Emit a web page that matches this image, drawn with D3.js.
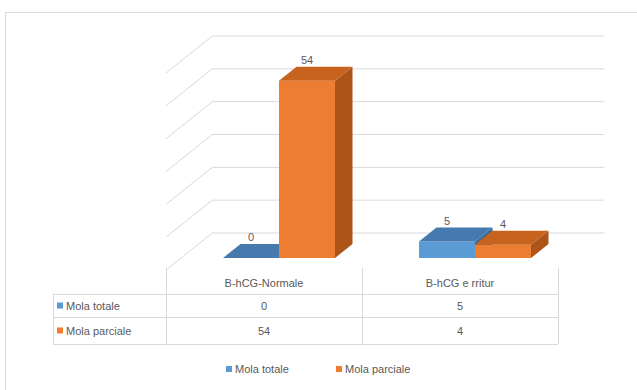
<!DOCTYPE html>
<html>
<head>
<meta charset="utf-8">
<script src="https://cdn.jsdelivr.net/npm/d3@7"></script>
<style>
  html, body { margin: 0; padding: 0; background: #ffffff; }
  svg { display: block; }
  text { font-family: "Liberation Sans", Arial, sans-serif; fill: #595959; }
</style>
</head>
<body>
<svg id="chart" width="637" height="390"></svg>
<script>
// Categories and series
const categories = ["B-hCG-Normale", "B-hCG e rritur"];
const seriesNames = ["Mola totale", "Mola parciale"];
const molaTotale = [0, 5];
const molaParciale = [54, 4];
const gridTicks = [0, 10, 20, 30, 40, 50, 60];

const seriesValues = [molaTotale, molaParciale];
const palette = [
  { front: "#5b9bd5", top: "#4679ad", side: "#3d6b98" },
  { front: "#ed7d31", top: "#c8621f", side: "#ad5419" }
];

const svg = d3.select("#chart");

// Oblique 3D projection: x along the category axis, v value, z depth
const baseY = 270;      // floor front edge
const depthDx = 1.25;   // horizontal shift per depth unit
const wallDepth = 37;   // back wall depth
const barZ0 = 12, barZ1 = 26;

const x = d3.scaleBand().domain(categories).range([166, 558]);
const xs = d3.scaleBand().domain(d3.range(seriesNames.length))
  .range([0, x.bandwidth()]).paddingInner(0).paddingOuter(0.75);
const y = d3.scaleLinear().domain([0, 60]).range([0, 197]);

const proj = (px, v, z) => [px + z * depthDx, baseY - z - y(v)];
const pts = arr => arr.map(p => p.join(",")).join(" ");

// Outer chart frame
svg.append("rect")
  .attr("x", 5.5).attr("y", 12.5).attr("width", 640).attr("height", 400)
  .attr("fill", "none").attr("stroke", "#d9d9d9");

// Walls: back wall gridlines and side wall diagonals
const grid = svg.append("g").attr("stroke", "#d9d9d9").attr("stroke-width", 1).attr("fill", "none");
gridTicks.forEach(t => {
  const bl = proj(166, t, wallDepth), br = proj(558, t, wallDepth), fl = proj(166, t, 0);
  grid.append("line").attr("x1", bl[0]).attr("y1", bl[1]).attr("x2", br[0]).attr("y2", br[1]);
  grid.append("line").attr("x1", bl[0]).attr("y1", bl[1]).attr("x2", fl[0]).attr("y2", fl[1]);
});

// Bars
const bars = svg.append("g");
const labels = svg.append("g").attr("font-size", 11).attr("text-anchor", "middle");
categories.forEach((c, ci) => {
  seriesValues.forEach((vals, si) => {
    const v = vals[ci];
    const x0 = x(c) + xs(si), x1 = x0 + xs.bandwidth();
    const col = palette[si];
    const front = [proj(x0, 0, barZ0), proj(x1, 0, barZ0), proj(x1, v, barZ0), proj(x0, v, barZ0)];
    const top = [proj(x0, v, barZ0), proj(x1, v, barZ0), proj(x1, v, barZ1), proj(x0, v, barZ1)];
    const side = [proj(x1, 0, barZ0), proj(x1, 0, barZ1), proj(x1, v, barZ1), proj(x1, v, barZ0)];
    if (v > 0) {
      bars.append("polygon").attr("points", pts(side)).attr("fill", col.side);
      bars.append("polygon").attr("points", pts(front)).attr("fill", col.front);
    }
    bars.append("polygon").attr("points", pts(top)).attr("fill", col.top);
    const lp = proj((x0 + x1) / 2, v, barZ0);
    labels.append("text").attr("x", lp[0]).attr("y", lp[1] - 17).text(v);
  });
});

// Data table
const table = svg.append("g").attr("stroke", "#d9d9d9").attr("fill", "none");
const tLeft = 53, tTop = 268, rowTops = [294, 317, 344];
[tLeft].forEach(xx => table.append("line").attr("x1", xx + 0.5).attr("x2", xx + 0.5).attr("y1", rowTops[0]).attr("y2", rowTops[2]));
[166, x(categories[1]), 558].forEach(xx =>
  table.append("line").attr("x1", xx + 0.5).attr("x2", xx + 0.5).attr("y1", tTop).attr("y2", rowTops[2]));
rowTops.forEach(yy =>
  table.append("line").attr("x1", tLeft).attr("x2", 558).attr("y1", yy + 0.5).attr("y2", yy + 0.5));

const tText = svg.append("g").attr("font-size", 11);
categories.forEach(c => {
  tText.append("text").attr("x", x(c) + x.bandwidth() / 2).attr("y", 287)
    .attr("text-anchor", "middle").text(c);
});
seriesNames.forEach((s, si) => {
  const cy = (rowTops[si] + rowTops[si + 1]) / 2;
  tText.append("rect").attr("x", 57).attr("y", cy - 3).attr("width", 6).attr("height", 6)
    .attr("fill", palette[si].front).style("fill", palette[si].front);
  tText.append("text").attr("x", 66).attr("y", cy + 4).text(s);
  categories.forEach((c, ci) => {
    tText.append("text").attr("x", x(c) + x.bandwidth() / 2).attr("y", cy + 4)
      .attr("text-anchor", "middle").text(seriesValues[si][ci]);
  });
});

// Legend
const legend = svg.append("g").attr("font-size", 11);
const legendX = [226, 336];
seriesNames.forEach((s, si) => {
  legend.append("rect").attr("x", legendX[si]).attr("y", 366).attr("width", 6).attr("height", 6)
    .style("fill", palette[si].front);
  legend.append("text").attr("x", legendX[si] + 9).attr("y", 373).text(s);
});
</script>
</body>
</html>
